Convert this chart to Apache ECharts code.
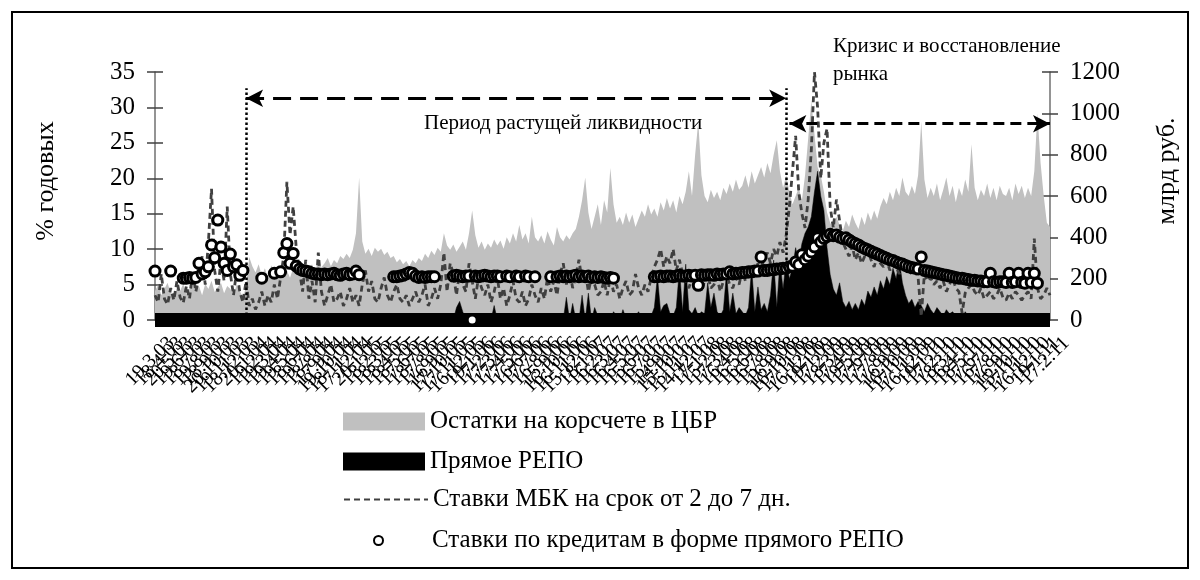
<!DOCTYPE html>
<html><head><meta charset="utf-8">
<script src="https://cdn.jsdelivr.net/npm/echarts@6/dist/echarts.min.js"></script>
<style>html,body{margin:0;padding:0;background:#fff}#c{width:1200px;height:580px}</style>
</head><body><div id="c"></div>
<script>
const tickLabels = [
'19.3.03','18.4.03','20.5.03','19.6.03','18.7.03','19.8.03','18.9.03','20.10.03','19.11.03','18.12.03',
'20.1.04','19.2.04','19.3.04','19.4.04','19.5.04','18.6.04','19.7.04','18.8.04','17.9.04','19.10.04','18.11.04','17.12.04',
'20.1.05','18.2.05','18.3.05','18.4.05','18.5.05','17.6.05','18.7.05','17.8.05','16.9.05','17.10.05','17.11.05','16.12.05',
'19.1.06','17.2.06','17.3.06','17.4.06','17.5.06','16.6.06','17.7.06','16.8.06','15.9.06','16.10.06','16.11.06','15.12.06',
'18.1.07','16.2.07','16.3.07','16.4.07','16.5.07','15.6.07','16.7.07','15.8.07','14.9.07','15.10.07','15.11.07','14.12.07',
'17.1.08','15.2.08','17.3.08','16.4.08','16.5.08','16.6.08','16.7.08','15.8.08','16.9.08','16.10.08','17.11.08','16.12.08',
'19.1.09','17.2.09','18.3.09','17.4.09','19.5.09','17.6.09','17.7.09','17.8.09','16.9.09','16.10.09','17.11.09','16.12.09',
'19.1.10','17.2.10','18.3.10','16.4.10','18.5.10','17.6.10','16.7.10','17.8.10','16.9.10','15.10.10','17.11.10','16.12.10',
'19.1.11','17.2.11'
];
// Остатки на корсчете в ЦБР, млрд руб.
const reserves = [
140,170,120,150,180,130,110,160,140,175,
125,150,185,140,165,120,175,150,190,135,
160,180,130,165,150,120,170,140,110,160,
305,260,230,270,215,250,200,265,230,210,
255,220,240,205,250,230,265,240,280,250,
270,235,285,255,275,300,260,290,275,310,
295,320,300,340,420,690,380,320,345,310,
350,330,345,315,330,300,310,280,295,270,
285,260,290,275,300,285,320,300,335,315,
350,330,420,360,340,365,330,355,380,340,
420,530,410,350,380,340,370,350,390,360,
385,345,400,370,420,380,460,390,420,370,
500,400,380,410,370,430,390,360,450,400,
380,410,390,420,440,500,580,690,520,440,
500,560,460,580,520,735,560,470,500,460,
520,470,510,450,490,530,500,560,510,540,
500,570,530,590,540,580,520,600,560,620,
720,600,800,960,700,600,570,630,590,620,
580,640,610,660,620,680,630,650,700,640,
720,660,700,740,690,760,710,800,870,720,
640,700,620,560,600,640,580,700,880,1060,
900,740,700,620,520,470,440,500,460,430,
480,450,510,470,440,500,460,520,480,530,
490,550,590,560,620,580,640,600,690,620,
600,650,610,700,960,680,590,640,600,660,
580,630,690,600,650,570,640,600,680,620,
850,640,580,630,600,660,590,640,580,650,
610,600,640,580,660,610,650,590,640,600,
720,1000,760,600,470,450
];
// Прямое РЕПО, млрд руб.
const repoVolume = [
0,0,0,0,0,0,0,0,0,0,
0,0,0,0,0,0,0,0,0,0,
0,0,0,0,0,0,0,0,0,0,
0,0,0,0,0,0,0,0,0,0,
0,0,0,0,0,0,0,0,0,0,
0,0,0,0,0,0,0,0,0,0,
0,0,0,0,0,0,0,0,0,0,
0,0,0,0,0,0,0,0,0,0,
0,0,0,0,0,0,0,0,0,0,
0,0,0,0,0,0,60,90,40,0,
0,0,0,0,0,0,0,0,70,0,
0,0,0,0,0,0,0,0,0,0,
0,0,0,0,0,0,0,0,0,0,
0,110,0,80,0,0,120,0,130,0,
60,20,0,30,10,0,40,20,0,50,
10,30,0,20,40,10,0,30,20,60,
210,40,70,80,30,20,60,250,40,270,
50,30,60,20,40,30,180,60,130,40,
20,50,230,40,130,30,60,40,20,60,
250,40,160,50,80,40,120,290,60,280,
150,290,200,250,350,280,370,420,450,500,
620,720,600,530,350,220,150,120,180,90,
60,90,50,80,50,100,70,140,110,160,
120,190,150,210,170,250,200,290,180,120,
80,100,60,90,70,40,80,50,30,60,
40,20,50,30,40,20,30,10,40,20,
10,30,0,10,0,0,20,0,0,10,
0,0,0,0,0,0,0,0,0,0,
0,0,0,0,0,0
];
// Ставки МБК на срок от 2 до 7 дн., % годовых
const mbkRate = [
3.5,2.5,6.5,3.0,2.2,4.5,2.8,5.5,3.2,2.4,
4.8,3.0,7.0,4.0,6.0,9.0,5.0,11.0,18.5,7.0,
4.0,8.5,5.5,16.0,6.5,3.5,7.0,4.0,2.5,5.5,
2.0,3.0,1.5,2.5,4.0,2.0,3.5,2.5,5.0,3.0,
6.0,9.0,19.5,12.0,16.0,10.0,7.0,4.0,8.5,3.0,
5.5,2.5,9.5,4.0,2.0,3.5,5.0,2.5,3.0,4.0,
2.0,3.0,4.5,2.5,3.5,2.0,5.0,7.0,4.0,5.5,
3.0,2.5,4.5,6.0,3.5,2.5,4.0,5.0,3.0,2.5,
3.5,2.0,3.0,4.0,2.5,3.5,5.0,2.0,3.0,4.5,
3.0,5.0,9.5,4.0,8.0,6.5,3.5,7.0,5.0,4.0,
8.0,5.5,3.0,6.0,4.5,3.5,5.0,2.5,4.0,6.0,
3.0,4.5,2.0,3.5,5.5,3.0,2.5,4.0,2.0,3.0,
5.0,3.5,2.5,4.5,3.0,6.0,4.0,5.5,3.5,6.5,
8.0,5.0,7.0,4.5,6.0,8.5,5.5,7.0,4.0,6.0,
5.0,3.5,4.0,5.5,3.5,6.0,4.0,5.0,3.0,4.5,
5.5,3.5,4.0,6.5,4.5,3.5,5.0,4.0,6.0,7.5,
8.5,10.0,7.5,9.0,8.0,10.0,7.0,8.5,6.5,5.5,
4.5,6.0,5.0,7.0,4.0,5.5,6.5,4.5,5.0,6.0,
4.0,5.5,6.5,5.0,4.5,6.0,5.0,7.0,5.5,6.0,
7.0,6.5,8.0,7.5,8.5,9.5,8.0,10.0,9.0,11.0,
9.5,12.0,16.0,21.0,26.0,18.0,15.0,13.0,17.0,24.0,
35.0,30.0,20.0,25.0,27.0,16.0,13.0,17.0,14.0,11.0,
10.0,9.0,10.5,8.5,9.5,8.0,9.0,10.0,8.5,7.5,
9.0,8.0,7.5,8.5,7.0,8.0,7.5,6.5,7.5,8.5,
7.0,6.5,7.0,6.0,0.5,6.5,5.5,6.0,5.0,5.5,
4.5,5.5,4.0,5.0,6.0,4.5,4.0,1.0,3.8,4.5,
5.0,4.0,3.5,4.5,3.0,3.5,4.0,3.0,3.5,4.5,
3.2,2.8,3.8,3.0,4.0,3.5,2.8,3.5,4.0,3.0,
11.5,4.5,3.0,3.5,4.5,3.5
];
// Ставки по кредитам в форме прямого РЕПО, % годовых
const repoRate = [
6.9,null,null,null,null,6.9,null,null,null,5.9,
5.9,6.0,5.9,6.0,8.0,6.5,6.8,7.5,10.6,8.8,
14.1,10.3,8.0,7.0,9.3,7.5,7.8,6.3,7.0,null,
null,null,null,null,5.9,null,null,null,6.6,null,
6.8,9.5,10.8,8.0,9.4,7.6,7.2,7.0,6.9,6.8,
6.6,6.5,6.5,6.4,6.5,6.4,6.5,6.6,6.4,6.3,
6.5,6.6,6.4,6.5,6.9,6.4,null,null,null,null,
null,null,null,null,null,null,6.1,6.1,6.2,6.3,
6.5,6.7,6.6,6.2,6.0,6.1,6.0,6.1,6.1,6.1,
null,null,null,null,null,6.2,6.3,6.2,6.1,6.2,
6.2,0,6.2,6.1,6.2,6.3,6.2,6.1,6.2,6.2,
6.1,null,6.2,6.1,null,6.2,6.1,null,6.2,6.1,
null,6.1,null,null,null,null,6.1,null,6.1,6.2,
6.1,6.2,6.1,6.2,6.3,6.1,6.2,6.1,6.2,6.0,
6.1,6.0,6.1,6.0,5.9,6.0,5.9,null,null,null,
null,null,null,null,null,null,null,null,null,6.1,
6.1,6.2,6.1,6.2,6.2,6.1,6.2,6.3,6.2,6.2,
6.3,6.2,6.3,4.9,6.4,6.3,6.4,6.4,6.3,6.5,
6.4,6.5,6.5,6.8,6.5,6.6,6.6,6.7,6.7,6.8,
6.8,6.9,6.9,8.9,7.0,7.0,7.1,7.1,7.2,7.2,
7.3,7.3,7.5,7.6,8.2,7.8,9.2,8.5,9.0,9.6,
10.3,11.6,11.0,11.5,11.8,12.1,11.9,12.0,11.7,11.5,
11.6,11.3,11.0,10.8,10.6,10.3,10.1,9.9,9.7,9.5,
9.3,9.1,8.9,8.7,8.5,8.4,8.2,8.0,7.9,7.7,
7.5,7.4,7.3,7.2,8.9,7.0,6.9,6.8,6.7,6.6,
6.5,6.4,6.3,6.2,6.1,6.0,5.9,5.9,5.8,5.7,
5.6,5.6,5.5,5.5,5.4,5.4,6.6,5.4,5.3,5.4,
5.4,5.3,6.6,5.3,5.4,6.6,5.3,5.2,6.6,5.3,
6.6,5.2,null,null,null,null
];
const rateTicks = {min: 0, max: 35, interval: 5};
const volumeTicks = {min: 0, max: 1200, interval: 200};
const names = {
  reserves: 'Остатки на корсчете в ЦБР',
  repoVolume: 'Прямое РЕПО',
  mbk: 'Ставки МБК на срок от 2 до 7 дн.',
  repoRate: 'Ставки по кредитам в форме прямого РЕПО'
};

// category axis: one tick label every 3 points
const categories = [];
tickLabels.forEach((t, k) => {
  categories.push(t);
  if (k < tickLabels.length - 1) { categories.push(''); categories.push(''); }
});

const FF = '"Liberation Serif","Times New Roman",serif';
const chart = echarts.init(document.getElementById('c'), null, {renderer: 'canvas'});

const markStyleDot = {type: 'dotted', width: 2.5, color: '#000'};
const plain = v => String(v);
const option = {
  animation: false,
  grid: {left: 155, right: 150, top: 72, bottom: 260, containLabel: false},
  xAxis: {
    type: 'category', data: categories, boundaryGap: false, z: 3,
    axisLine: {show: true, lineStyle: {color: '#000', width: 14, cap: 'butt'}},
    axisTick: {show: false},
    axisLabel: {interval: 0, rotate: 45, fontSize: 20, fontFamily: FF, color: '#000',
                margin: 4, verticalAlign: 'top', padding: [13, 0, 0, 0]},
    splitLine: {show: false}
  },
  yAxis: [
    {type: 'value', position: 'left', min: rateTicks.min, max: rateTicks.max, interval: rateTicks.interval,
     name: '% годовых', nameLocation: 'middle', nameGap: 96, nameRotate: 90,
     nameTextStyle: {fontSize: 26, fontFamily: FF, color: '#000', padding: [0, 0, 0, 30]},
     axisLine: {show: true, lineStyle: {color: '#707070', width: 1.5}},
     axisTick: {show: true, length: 8, lineStyle: {color: '#404040', width: 1.5}},
     axisLabel: {fontSize: 25, fontFamily: FF, color: '#000', margin: 20, formatter: plain},
     splitLine: {show: false}},
    {type: 'value', position: 'right', min: volumeTicks.min, max: volumeTicks.max, interval: volumeTicks.interval,
     name: 'млрд руб.', nameLocation: 'middle', nameGap: 104, nameRotate: 90,
     nameTextStyle: {fontSize: 26, fontFamily: FF, color: '#000', padding: [0, 0, 0, 50]},
     axisLine: {show: true, lineStyle: {color: '#707070', width: 1.5}},
     axisTick: {show: true, length: 8, lineStyle: {color: '#404040', width: 1.5}},
     axisLabel: {fontSize: 25, fontFamily: FF, color: '#000', margin: 20, formatter: plain},
     splitLine: {show: false}},
    {type: 'value', position: 'left', min: rateTicks.min, max: rateTicks.max, interval: rateTicks.interval,
     axisLine: {show: false}, axisLabel: {show: false}, splitLine: {show: false},
     axisTick: {show: true, inside: true, length: 8, lineStyle: {color: '#404040', width: 1.5}}},
    {type: 'value', position: 'right', min: volumeTicks.min, max: volumeTicks.max, interval: volumeTicks.interval,
     axisLine: {show: false}, axisLabel: {show: false}, splitLine: {show: false},
     axisTick: {show: true, inside: true, length: 8, lineStyle: {color: '#404040', width: 1.5}}}
  ],
  legend: [
    {data: [names.reserves, names.repoVolume], orient: 'vertical', left: 343, top: 409,
     itemWidth: 82, itemHeight: 18, itemGap: 15, icon: 'rect', selectedMode: false, padding: 0,
     textStyle: {fontSize: 25, fontFamily: FF, color: '#000'}},
    {data: [{name: names.mbk, itemStyle: {opacity: 0}}], orient: 'vertical', left: 343, top: 487,
     itemWidth: 84, itemHeight: 14, selectedMode: false, padding: 0,
     textStyle: {fontSize: 25, fontFamily: FF, color: '#000'}},
    {data: [names.repoRate], orient: 'vertical', left: 373, top: 528,
     itemWidth: 9, itemHeight: 9, selectedMode: false, padding: 0,
     textStyle: {fontSize: 25, fontFamily: FF, color: '#000', padding: [0, 0, 0, 44]}}
  ],
  series: [
    {name: names.reserves, type: 'line', yAxisIndex: 1, data: reserves, symbol: 'none', z: 1,
     color: '#c0c0c0', itemStyle: {color: '#c0c0c0'},
     lineStyle: {width: 0}, areaStyle: {color: '#c0c0c0', opacity: 1}},
    {name: names.repoVolume, type: 'line', yAxisIndex: 1, data: repoVolume, symbol: 'none', z: 2,
     color: '#000', itemStyle: {color: '#000'},
     lineStyle: {width: 0.5, color: '#000'}, areaStyle: {color: '#000', opacity: 1}},
    {name: names.mbk, type: 'line', yAxisIndex: 0, data: mbkRate, symbol: 'none', z: 4,
     color: '#404040',
     lineStyle: {color: '#404040', width: 2.8, type: [6, 4]},
     markLine: {
       silent: true, animation: false, label: {show: false}, symbol: ['none', 'none'],
       data: [
         [{coord: [29, 0], lineStyle: markStyleDot}, {coord: [29, 32.7]}],
         [{coord: [201, 0], lineStyle: markStyleDot}, {coord: [201, 32.7]}],
         [{coord: [29, 31.3], symbol: 'arrow', symbolSize: [13, 17],
           lineStyle: {type: [18, 9], width: 3, color: '#000'}},
          {coord: [201, 31.3], symbol: 'arrow', symbolSize: [13, 17]}],
         [{coord: [202, 27.7], symbol: 'arrow', symbolSize: [13, 17],
           lineStyle: {type: [11, 6], width: 3, color: '#000'}},
          {coord: [285, 27.7], symbol: 'arrow', symbolSize: [13, 17]}]
       ]
     }},
    {name: names.repoRate, type: 'scatter', yAxisIndex: 0, data: repoRate, z: 5,
     symbol: 'circle', symbolSize: 10,
     itemStyle: {color: '#fff', borderColor: '#000', borderWidth: 3, opacity: 1}}
  ],
  graphic: [
    {type: 'rect', silent: true, z: -10, shape: {x: 12, y: 12, width: 1176, height: 556},
     style: {fill: 'none', stroke: '#000', lineWidth: 2}},
    {type: 'text', silent: true, x: 424, y: 123,
     style: {text: 'Период растущей ликвидности', font: '21px "Liberation Serif"', fill: '#000', verticalAlign: 'middle'}},
    {type: 'text', silent: true, x: 833, y: 46,
     style: {text: 'Кризис и восстановление', font: '21px "Liberation Serif"', fill: '#000', verticalAlign: 'middle'}},
    {type: 'text', silent: true, x: 833, y: 74,
     style: {text: 'рынка', font: '21px "Liberation Serif"', fill: '#000', verticalAlign: 'middle'}}
  ]
};
chart.setOption(option);
</script>
</body></html>
